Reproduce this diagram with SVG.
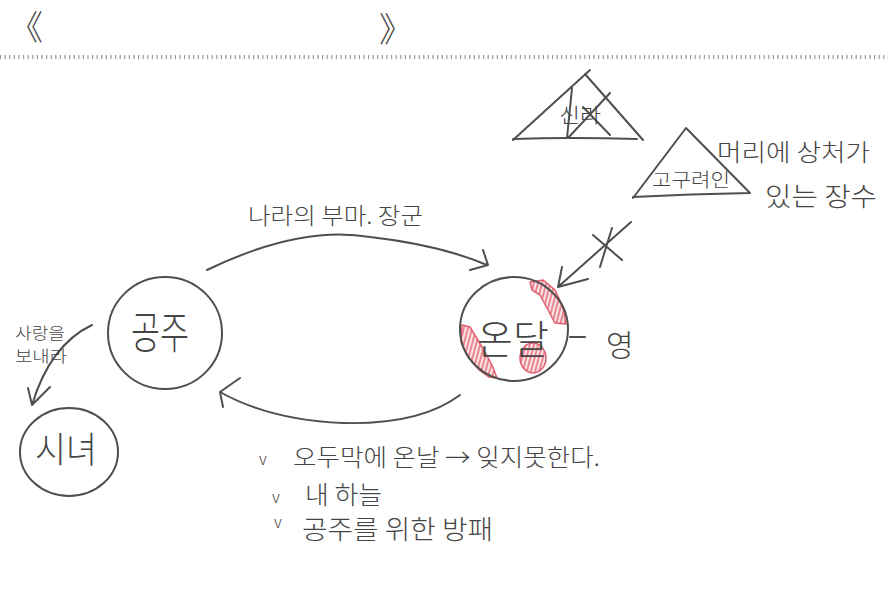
<svg xmlns="http://www.w3.org/2000/svg" width="888" height="589" viewBox="0 0 888 589">
<style>
.ink{fill:none;stroke:#4f4f4f;stroke-width:2;stroke-linecap:round;stroke-linejoin:round}
.t{font-family:"Noto Sans CJK KR","Noto Sans",sans-serif;fill:#454545;font-weight:300}
.red{fill:url(#hatch);stroke:#e06070;stroke-width:1.5}
</style>
<defs>
<pattern id="hatch" patternUnits="userSpaceOnUse" width="4" height="4" patternTransform="rotate(15)">
<rect width="4" height="4" fill="#fbe3e6"/>
<line x1="1" y1="0" x2="1" y2="4" stroke="#e2606e" stroke-width="1.4"/>
</pattern>
</defs>
<rect width="888" height="589" fill="#ffffff"/>

<g id="header">
<text class="t" x="9" y="40" font-size="34" fill="#777">《</text>
<text class="t" x="379" y="42" font-size="34" fill="#777">》</text>
<line x1="0" y1="57" x2="888" y2="57" stroke="#999" stroke-width="4" stroke-dasharray="1.2 3.4"/>
</g>

<g id="silla">
<path class="ink" d="M513 140 L590 70 M585 74 L643 140 M513 139 Q570 137 637 139"/>
<path class="ink" d="M572 88 L567 138 M610 93 L568 138 M583 107 L610 135"/>
<text class="t" x="559" y="123" font-size="20" textLength="42" lengthAdjust="spacingAndGlyphs">신라</text>
</g>

<g id="goguryeo">
<path class="ink" d="M633 198 L686 128 L750 193 M633 197 Q690 194 750 193"/>
<text class="t" x="652" y="187" font-size="19" textLength="78" lengthAdjust="spacingAndGlyphs">고구려인</text>
<text class="t" x="717" y="161" font-size="24" textLength="153" lengthAdjust="spacingAndGlyphs">머리에 상처가</text>
<text class="t" x="765" y="206" font-size="26" textLength="112" lengthAdjust="spacingAndGlyphs">있는 장수</text>
</g>

<g id="gongju">
<ellipse class="ink" cx="165" cy="333" rx="57" ry="56"/>
<text class="t" x="131" y="349" font-size="44" textLength="58" lengthAdjust="spacingAndGlyphs">공주</text>
</g>

<g id="sinyeo">
<ellipse class="ink" cx="69" cy="452" rx="49" ry="44"/>
<text class="t" x="35" y="463" font-size="36" textLength="62" lengthAdjust="spacingAndGlyphs">시녀</text>
</g>

<g id="ondal">
<path class="red" d="M530 282 L543 280 L555 290 L563 307 L566 324 L555 323 L548 310 L540 295 L532 290 Z"/>
<path class="red" d="M462 325 L470 327 L482 347 L492 365 L497 378 L489 377 L479 370 L468 357 L461 342 Z"/>
<ellipse class="red" cx="533" cy="358" rx="13" ry="15"/>
<ellipse class="ink" cx="514" cy="329" rx="54" ry="52"/>
<text class="t" x="477" y="354" font-size="40" textLength="72" lengthAdjust="spacingAndGlyphs">온달</text>
<line class="ink" x1="570" y1="337" x2="585" y2="337"/>
<text class="t" x="606" y="356" font-size="30">영</text>
</g>

<g id="connectors">
<path class="ink" d="M207 270 Q300 225 370 237 Q440 245 487 265 M483 250 L488 265 L470 270"/>
<path class="ink" d="M460 395 Q420 425 343 423 Q270 420 220 392 M240 378 L220 392 L223 407"/>
<path class="ink" d="M92 325 Q50 345 32 405 M28 388 L32 405 L50 387"/>
<path class="ink" d="M631 222 L558 287 M562 267 L558 287 L588 279 M593 235 L622 260 M612 228 L600 267"/>
</g>

<g id="labels">
<text class="t" x="248" y="224" font-size="23" textLength="175" lengthAdjust="spacingAndGlyphs">나라의 부마. 장군</text>
<text class="t" x="15" y="339" font-size="16" textLength="50" lengthAdjust="spacingAndGlyphs">사랑을</text>
<text class="t" x="15" y="362" font-size="16" textLength="52" lengthAdjust="spacingAndGlyphs">보내라</text>
</g>

<g id="notes">
<text class="t" x="259" y="465" font-size="16">v</text>
<text class="t" x="293" y="466" font-size="24" textLength="307" lengthAdjust="spacingAndGlyphs">오두막에 온날 → 잊지못한다.</text>
<text class="t" x="272" y="503" font-size="16">v</text>
<text class="t" x="305" y="504" font-size="25" textLength="77" lengthAdjust="spacingAndGlyphs">내 하늘</text>
<text class="t" x="274" y="528" font-size="16">v</text>
<text class="t" x="302" y="539" font-size="26" textLength="191" lengthAdjust="spacingAndGlyphs">공주를 위한 방패</text>
</g>
</svg>
